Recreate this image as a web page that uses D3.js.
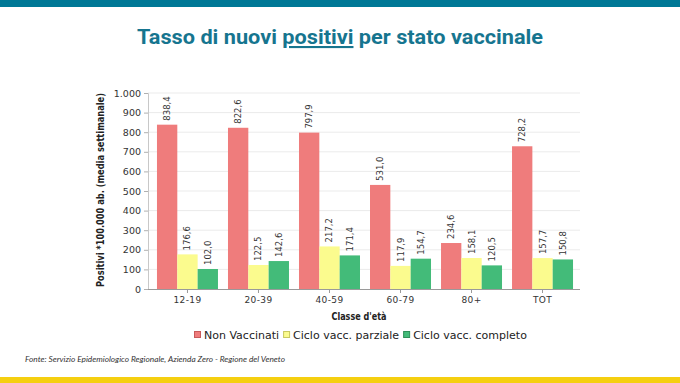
<!DOCTYPE html>
<html>
<head>
<meta charset="utf-8">
<script src="https://cdn.jsdelivr.net/npm/d3@7"></script>
<style>
  body { margin: 0; background: #fff; }
  svg { display: block; }
</style>
</head>
<body>
<div id="chart"></div>
<script>
// age classes and the three vaccination states
const categories = ["12-19", "20-39", "40-59", "60-79", "80+", "TOT"];
const seriesNames = ["Non Vaccinati", "Ciclo vacc. parziale", "Ciclo vacc. completo"];
const nonVaccinati = [838.4, 822.6, 797.9, 531.0, 234.6, 728.2];
const cicloParziale = [176.6, 122.5, 217.2, 117.9, 158.1, 157.7];
const cicloCompleto = [102.0, 142.6, 171.4, 154.7, 120.5, 150.8];
const yTicks = [0, 100, 200, 300, 400, 500, 600, 700, 800, 900, 1000];

const colors = ["#ef7c7c", "#fbfb8e", "#43bb79"];
const borders = ["#c85a5a", "#c8c860", "#2e8f58"];

const W = 680, H = 383;
const svg = d3.select("#chart").append("svg")
    .attr("width", W).attr("height", H);

// top and bottom bands
svg.append("rect").attr("x", 0).attr("y", 0).attr("width", W).attr("height", 7).attr("fill", "#007896");
svg.append("rect").attr("x", 0).attr("y", 377).attr("width", W).attr("height", 6).attr("fill", "#f5cf10");

// title
const title = svg.append("text")
    .attr("x", 137).attr("y", 44)
    .attr("textLength", 406).attr("lengthAdjust", "spacingAndGlyphs")
    .style("font-family", "Roboto, sans-serif").style("font-weight", 700)
    .style("font-size", "21px").attr("fill", "#16758f");
title.append("tspan").text("Tasso di nuovi ");
title.append("tspan").text("positivi").style("text-decoration", "underline");
title.append("tspan").text(" per stato vaccinale");

// scales
const x0 = d3.scaleBand().domain(categories).range([152, 578]).paddingInner(0.141).paddingOuter(0.07);
const x1 = d3.scaleBand().domain([0, 1, 2]).range([0, x0.bandwidth()]);
const y = d3.scaleLinear().domain([0, 1000]).range([289, 93]);

const it = d3.formatLocale({decimal: ",", thousands: ".", grouping: [3], currency: ["€", ""]});
const fmtTick = it.format(",");
const fmtVal = it.format(".1f");

// gridlines
svg.append("g").selectAll("line").data(yTicks.slice(1)).join("line")
    .attr("x1", 148).attr("x2", 580)
    .attr("y1", d => y(d)).attr("y2", d => y(d))
    .attr("stroke", "#ebebeb").attr("stroke-width", 1);

// y axis
const yAxis = svg.append("g").attr("transform", "translate(148,0)")
    .call(d3.axisLeft(y).tickValues(yTicks).tickFormat(fmtTick).tickSize(4).tickPadding(3));
yAxis.select(".domain").attr("stroke", "#c8c8c8");
yAxis.selectAll(".tick line").attr("stroke", "#b0b0b0");
yAxis.selectAll("text").style("font-family", "DejaVu Sans, sans-serif").style("font-size", "9.5px").attr("fill", "#333");

// bars
const rows = categories.map((c, i) => ({cat: c, vals: [nonVaccinati[i], cicloParziale[i], cicloCompleto[i]]}));
const groups = svg.append("g").selectAll("g").data(rows).join("g")
    .attr("transform", d => `translate(${x0(d.cat)},0)`);

groups.selectAll("rect").data(d => d.vals.map((v, k) => ({v, k}))).join("rect")
    .attr("x", d => x1(d.k)).attr("width", x1.bandwidth())
    .attr("y", d => y(d.v)).attr("height", d => y(0) - y(d.v))
    .attr("fill", d => colors[d.k]);

// value labels rotated
groups.selectAll("text").data(d => d.vals.map((v, k) => ({v, k}))).join("text")
    .attr("transform", d => `translate(${x1(d.k) + x1.bandwidth() / 2 + 3},${y(d.v) - 4}) rotate(-90)`)
    .attr("text-anchor", "start")
    .style("font-family", "DejaVu Sans, sans-serif").style("font-size", "8.5px")
    .attr("fill", "#333")
    .text(d => fmtVal(d.v));

// x axis
const xAxis = svg.append("g").attr("transform", "translate(0,289)")
    .call(d3.axisBottom(x0).tickSize(4).tickPadding(4).tickSizeOuter(0));
xAxis.select(".domain").attr("d", "M148,0.5H580").attr("stroke", "#9a9a9a");
xAxis.selectAll(".tick line").attr("stroke", "#9a9a9a");
xAxis.selectAll("text").style("font-family", "DejaVu Sans, sans-serif").style("font-size", "9px")
    .style("letter-spacing", "0.4px").attr("fill", "#333");

// axis titles
svg.append("text")
    .attr("transform", "translate(104,190) rotate(-90)")
    .attr("text-anchor", "middle")
    .attr("textLength", 194).attr("lengthAdjust", "spacingAndGlyphs")
    .style("font-family", "DejaVu Sans, sans-serif").style("font-weight", "bold").style("font-size", "10px")
    .attr("fill", "#222")
    .text("Positivi *100.000 ab. (media settimanale)");

svg.append("text")
    .attr("x", 359).attr("y", 320).attr("text-anchor", "middle")
    .attr("textLength", 55).attr("lengthAdjust", "spacingAndGlyphs")
    .style("font-family", "DejaVu Sans, sans-serif").style("font-weight", "bold").style("font-size", "10.5px")
    .attr("fill", "#222")
    .text("Classe d'età");

// legend
const legend = svg.append("g").attr("transform", "translate(194,339)");
let lx = 0;
seriesNames.forEach((name, k) => {
    legend.append("rect").attr("x", lx + 0.5).attr("y", -7.5).attr("width", 6).attr("height", 6)
        .attr("fill", colors[k]).attr("stroke", borders[k]).attr("stroke-width", 1);
    const t = legend.append("text").attr("x", lx + 10).attr("y", 0)
        .style("font-family", "DejaVu Sans, sans-serif").style("font-size", "11px")
        .attr("fill", "#222").text(name);
    lx += 10 + t.node().getComputedTextLength() + 4;
});

// source
svg.append("text")
    .attr("x", 25).attr("y", 362)
    .attr("textLength", 260).attr("lengthAdjust", "spacingAndGlyphs")
    .style("font-family", "Lato, sans-serif").style("font-style", "italic").style("font-size", "8.5px")
    .attr("fill", "#333")
    .text("Fonte: Servizio Epidemiologico Regionale, Azienda Zero - Regione del Veneto");
</script>
</body>
</html>
